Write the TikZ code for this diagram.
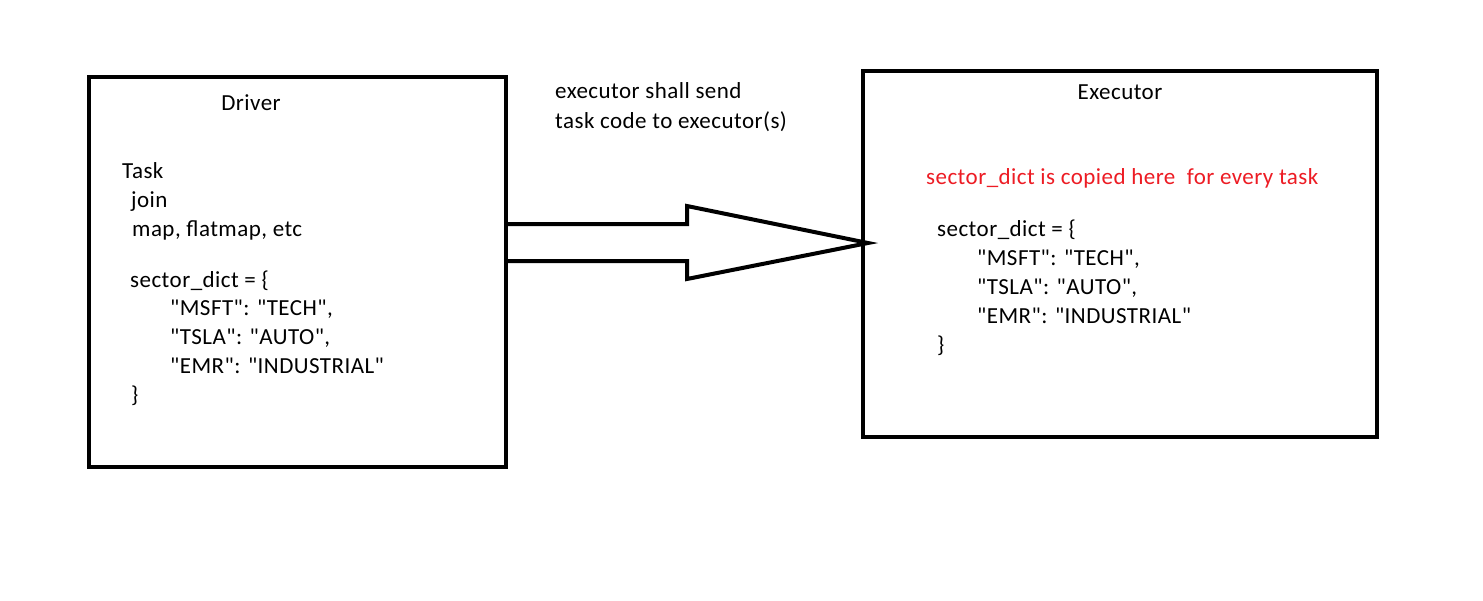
\documentclass[tikz,border=0pt]{standalone}
\usepackage{fontspec}
\setmainfont{Carlito}[LetterSpace=2,Ligatures=TeXOff]
\definecolor{paintred}{RGB}{237,28,36}
\newcommand{\qt}{\char34 }
\begin{document}
\begin{tikzpicture}[x=1pt,y=-1pt,
  box/.style={draw=black,line width=4pt,rectangle,inner sep=0pt},
  txt/.style={anchor=base west,inner sep=0pt,font=\fontsize{23}{28}\selectfont},
  ctxt/.style={anchor=base,inner sep=0pt,font=\fontsize{23}{28}\selectfont},
  bigarrow/.style={draw=black,line width=4pt,line join=miter}]
\useasboundingbox[fill=white] (0,0) rectangle (1483,600);
% boxes
\node[box,minimum width=417pt,minimum height=390pt] (driver) at (297.5,272) {};
\node[box,minimum width=514pt,minimum height=366pt] (executor) at (1120,254) {};
% driver texts
\node[ctxt] (dtitle) at (251,110) {Driver};
\node[txt] (task) at (122,178) {Task};
\node[txt] (join) at (131,207) {join};
\node[txt] (map) at (132,236) {map, flatmap, etc};
\node[txt] (d1) at (130,287) {sector\_dict = \{};
\node[txt] (d2) at (170,315) {\qt MSFT\qt: \qt TECH\qt,};
\node[txt] (d3) at (170,344) {\qt TSLA\qt: \qt AUTO\qt,};
\node[txt] (d4) at (170,373) {\qt EMR\qt: \qt INDUSTRIAL\qt};
\node[txt] (d5) at (131,402) {\}};
% executor texts
\node[ctxt] (etitle) at (1120,99) {Executor};
\node[txt,text=paintred] (red) at (926,184) {sector\_dict is copied here\ \ for every task};
\node[txt] (e1) at (937,236) {sector\_dict = \{};
\node[txt] (e2) at (977,265) {\qt MSFT\qt: \qt TECH\qt,};
\node[txt] (e3) at (977,294) {\qt TSLA\qt: \qt AUTO\qt,};
\node[txt] (e4) at (977,323) {\qt EMR\qt: \qt INDUSTRIAL\qt};
\node[txt] (e5) at (937,352) {\}};
% top label
\node[txt] (lab1) at (555,98) {executor shall send};
\node[txt] (lab2) at (555,128) {task code to executor(s)};
% arrow
\coordinate (s1) at (driver.east |- 0,224);
\coordinate (s2) at (driver.east |- 0,261);
\coordinate (tip) at (868,243);
\draw[bigarrow] (s1) -- (687,224) -- (687,206) -- (tip) -- (687,279) -- (687,261) -- (s2);
\end{tikzpicture}
\end{document}
